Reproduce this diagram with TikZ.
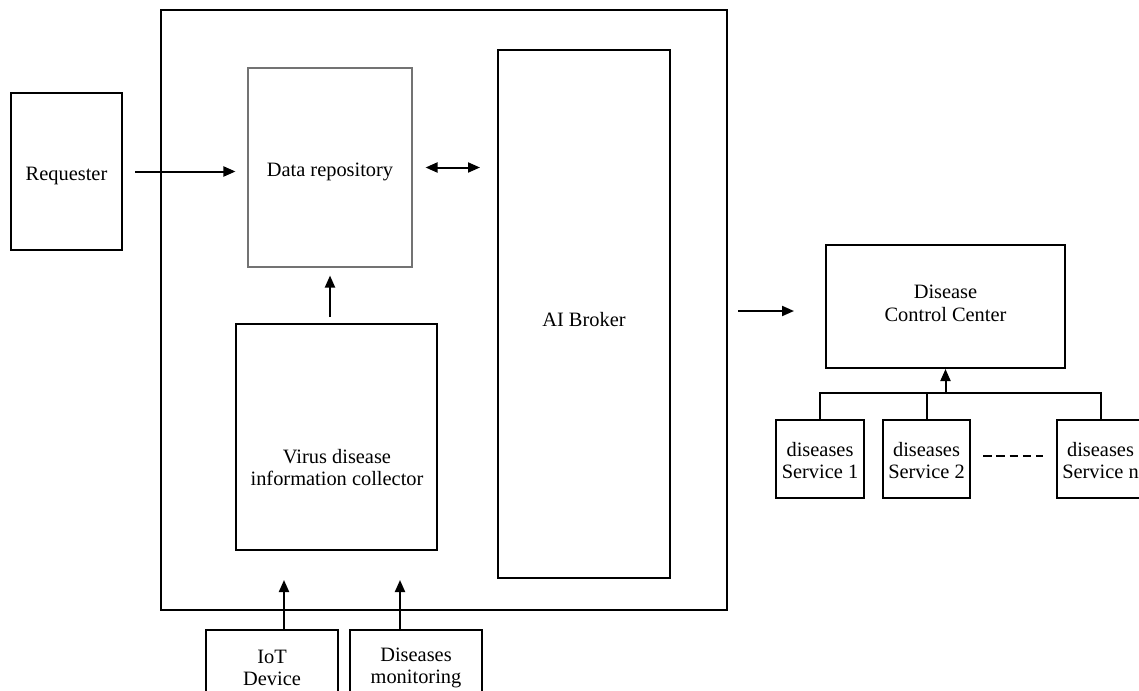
\documentclass[tikz,border=0pt]{standalone}
\usepackage{fontspec}
\setmainfont{Liberation Serif}
\usetikzlibrary{arrows.meta}
\tikzset{
  box/.style={draw, line width=2pt, inner sep=0pt, align=center, fill=white},
  thinbox/.style={draw=black!55, line width=1.1pt, inner sep=0pt, align=center},
  lbl/.style={inner sep=0pt, align=center},
  conn/.style={line width=2pt},
  arr/.style={line width=2pt, -{Triangle[length=12pt,width=10pt]}},
  darr/.style={line width=2pt, {Triangle[length=12pt,width=10pt]}-{Triangle[length=12pt,width=10pt]}},
}
\begin{document}
\begin{tikzpicture}[x=1pt,y=-1pt, font=\fontsize{20.4}{22.5}\selectfont]
\useasboundingbox (0,0) rectangle (1139,690);
\clip (0,0) rectangle (1139,690);

% main boxes
\node[box, minimum width=566pt, minimum height=600pt] (outer) at (444,310) {};
\node[box, minimum width=111pt, minimum height=157pt] (req) at (66.5,171.5) {};
\node[lbl] (reqtxt) at (66.5,175.5) {Requester};
\node[thinbox, minimum width=164pt, minimum height=199pt] (repo) at (330,167.5) {};
\node[lbl] (repotxt) at (330,171.5) {Data repository};
\node[box, minimum width=172pt, minimum height=528pt] (broker) at (584,314) {};
\node[lbl] (brokertxt) at (584,320) {AI Broker};
\node[box, minimum width=201pt, minimum height=226pt] (virus) at (336.5,437) {};
\node[lbl] (virustxt) at (337,467.5) {Virus disease\\information collector};

% disease control center
\node[box, minimum width=239pt, minimum height=123pt] (cc) at (945.5,306.5) {};
\node[lbl] (cctxt) at (945.5,303.5) {Disease\\Control Center};
\node[box, minimum width=88pt, minimum height=78pt] (s1) at (820,459) {};
\node[lbl] (s1txt) at (820,460.5) {diseases\\Service 1};
\node[box, minimum width=87pt, minimum height=78pt] (s2) at (926.5,459) {};
\node[lbl] (s2txt) at (926.5,460.5) {diseases\\Service 2};
\node[box, minimum width=87pt, minimum height=78pt] (sn) at (1100.5,459) {};
\node[lbl] (sntxt) at (1100.5,460.5) {diseases\\Service n};

% input devices
\node[box, minimum width=132pt, minimum height=76pt] (iot) at (272,668) {IoT\\Device};
\node[box, minimum width=132pt, minimum height=76pt] (mon) at (416,668) {Diseases\\monitoring};

% helper coordinates
\coordinate (y311) at (0,311);
\coordinate (junc) at (cc.south |- 0,393);
\coordinate (iotin) at (284,580);
\coordinate (monin) at (400,580);

% connectors
\draw[arr, shorten <=12pt, shorten >=12pt] (req.east) -- (req.east -| repo.west);
\draw[darr, shorten <=13pt, shorten >=17pt] (repo.east) -- (repo.east -| broker.west);
\draw[arr, shorten <=6pt, shorten >=8pt] (repo.south |- virus.north) -- (repo.south);
\draw[arr, shorten <=10pt, shorten >=31pt] (outer.east |- y311) -- (cc.west |- y311);
\draw[arr] (iotin |- iot.north) -- (iotin);
\draw[arr] (monin |- mon.north) -- (monin);

% service tree
\draw[conn] (s1.north) -- (s1.north |- junc) -- (sn.north |- junc) -- (sn.north);
\draw[conn] (s2.north) -- (s2.north |- junc);
\draw[arr] (junc) -- (cc.south);
\draw[conn, dash pattern=on 8.5pt off 4.8pt, shorten <=12pt, shorten >=13pt] ([yshift=3pt]s2.east) -- ([yshift=3pt]sn.west);
\end{tikzpicture}
\end{document}
